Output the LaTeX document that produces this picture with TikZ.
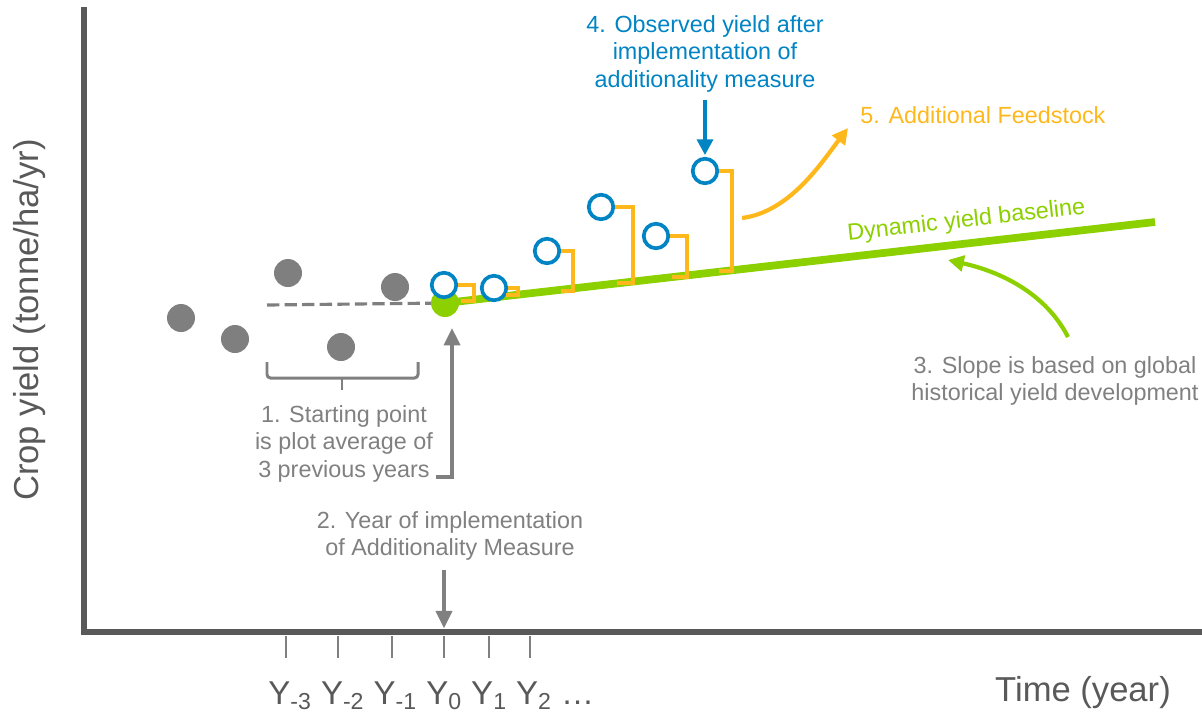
\documentclass[tikz,border=0pt]{standalone}
\usepackage{fontspec}
\setmainfont{Liberation Sans}
\usetikzlibrary{arrows.meta}
\definecolor{axisgray}{RGB}{89,89,89}
\definecolor{dotgray}{RGB}{127,127,127}
\definecolor{txtgray}{RGB}{128,128,128}
\definecolor{limegreen}{RGB}{140,208,0}
\definecolor{obsblue}{RGB}{0,132,196}
\definecolor{feedorange}{RGB}{255,184,28}
\begin{document}
\begin{tikzpicture}[x=0.02cm,y=-0.02cm,
    pastdot/.style={circle,fill=dotgray,inner sep=0pt,minimum size=0.56cm},
    obsdot/.style={circle,draw=obsblue,fill=white,line width=2.1pt,inner sep=0pt,minimum size=0.49cm},
    bracket/.style={feedorange,line width=2pt},
    note/.style={align=center,inner sep=0pt,font=\fontsize{13.3}{15.7}\selectfont},
    axislabel/.style={text=axisgray,inner sep=0pt,font=\fontsize{19.7}{24}\selectfont},
    grayarrow/.style={txtgray,line width=2.5pt,-{Triangle[length=10pt,width=9pt]}},
    bluearrow/.style={obsblue,line width=2.2pt,-{Triangle[length=9pt,width=9pt]}},
    curvearrow/.style={line width=2.4pt,-{Triangle[length=9pt,width=9pt]}}]
    \useasboundingbox (0,0) rectangle (1202,714);
    % axes and ticks
    \draw[axisgray,line width=3.3pt] (84,7) -- (84,632) -- (1210,632);
    \draw[txtgray,line width=1.3pt] (286,636) -- (286,658); \draw[txtgray,line width=1.3pt] (338,636) -- (338,658);
    \draw[txtgray,line width=1.3pt] (392,636) -- (392,658); \draw[txtgray,line width=1.3pt] (444,636) -- (444,658);
    \draw[txtgray,line width=1.3pt] (489,636) -- (489,658); \draw[txtgray,line width=1.3pt] (530,636) -- (530,658);
    \node[axislabel,rotate=90] (ylab) at (30,320) {Crop yield (tonne/ha/yr)};
    \node[axislabel,anchor=base] (xlab) at (1083,701) {Time (year)};
    \node[axislabel,anchor=base west,font=\fontsize{18.8}{24}\selectfont] (years) at (268,704) {Y\textsubscript{-3} Y\textsubscript{-2} Y\textsubscript{-1} Y\textsubscript{0} Y\textsubscript{1} Y\textsubscript{2} \ldots};
    % previous years
    \node[pastdot] (pm5) at (181,318) {}; \node[pastdot] (pm4) at (235,339) {};
    \node[pastdot] (pm3) at (288,273) {}; \node[pastdot] (pm2) at (341,347) {};
    \node[pastdot] (pm1) at (395,287) {};
    \coordinate (avgstart) at (267,305);
    \coordinate (y0c) at (445,303);
    \draw[dotgray,line width=1.8pt,dash pattern=on 7pt off 3pt] (avgstart) -- (y0c);
    % baseline
    \coordinate (baseend) at (1155,222);
    \draw[limegreen,line width=4.4pt] (y0c) -- (baseend);
    \node[circle,fill=limegreen,inner sep=0pt,minimum size=0.56cm] (y0) at (y0c) {};
    \node[text=limegreen,font=\fontsize{13.3}{15.7}\selectfont,rotate=6.4,anchor=base,inner sep=0pt] (dynlab) at (967,227) {Dynamic yield baseline};
    % observed yields
    \node[obsdot] (o0) at (444,285) {}; \node[obsdot] (o1) at (494,288) {};
    \node[obsdot] (o2) at (547,251) {}; \node[obsdot] (o3) at (601,207) {};
    \node[obsdot] (o4) at (656,236) {}; \node[obsdot] (o5) at (705,171) {};
    \draw[bracket] (o0.east) -| (474,301) -- (461,301);
    \draw[bracket] (o1.east) -| (518,295) -- (506,295);
    \draw[bracket] (o2.east) -| (573,291) -- (561,291);
    \draw[bracket] (o3.east) -| (633,283) -- (617,283);
    \draw[bracket] (o4.east) -| (687,277) -- (672,277);
    \draw[bracket] (o5.east) -| (732,271) -- (719,271);
    % notes
    \draw[txtgray,line width=1.7pt,rounded corners=2pt] (267,362) -- (267,378) -- (418,378) -- (418,362);
    \draw[txtgray,line width=1.7pt] (342,378) -- (342,390);
    \node[note,text=txtgray,anchor=north] (startnote) at (344,405) {1. Starting point\\is plot average of\\3 previous years};
    \coordinate (avgend) at (436,477);
    \draw[grayarrow] (avgend) -| ([xshift=4pt,yshift=-6pt]y0.south);
    \node[note,text=txtgray,anchor=north] (impnote) at (450,511) {2. Year of implementation\\of Additionality Measure};
    \coordinate (t0) at (444,632);
    \draw[grayarrow] ([yshift=-5pt]impnote.south -| t0) -- ([yshift=2pt]t0);
    \node[note,text=obsblue,anchor=north] (obsnote) at (705,15) {4. Observed yield after\\implementation of\\additionality measure};
    \draw[bluearrow] ([yshift=-4pt]o5.north |- obsnote.south) -- ([yshift=1pt]o5.north);
    \node[note,text=feedorange,anchor=base west] (feednote) at (860,123) {5. Additional Feedstock};
    \coordinate (fsfrom) at (742,218);
    \coordinate (fsto) at (848,128);
    \draw[curvearrow,feedorange] (fsfrom) .. controls (790,212) and (822,162) .. (fsto);
    \node[note,text=txtgray,anchor=north] (slopenote) at (1055,356) {3. Slope is based on global\\historical yield development};
    \coordinate (slopefrom) at (1068,337);
    \coordinate (slopeto) at (948,260);
    \draw[curvearrow,limegreen] (slopefrom) .. controls (1046,294) and (1002,272) .. (slopeto);
\end{tikzpicture}
\end{document}
